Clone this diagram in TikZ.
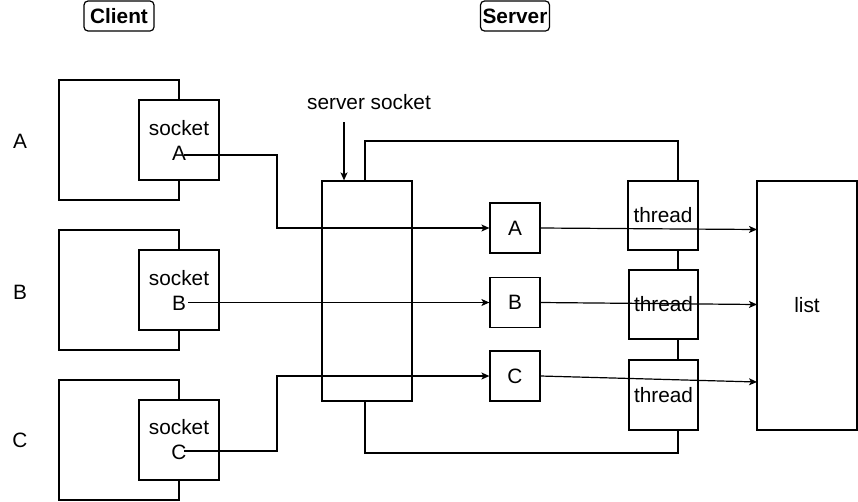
\documentclass[tikz,border=0pt]{standalone}
\usepackage{fontspec}
\setmainfont{Liberation Sans}
\usetikzlibrary{arrows.meta}
\newcommand\dfont{\fontsize{20.8}{25}\selectfont}
\begin{document}
\begin{tikzpicture}[x=1pt,y=-1pt,line width=1.2pt,font=\dfont,
  bx/.style={draw,fill=white,inner sep=0pt},
  lbl/.style={draw,rounded corners=4pt,minimum width=70pt,minimum height=30pt,inner sep=0pt,font=\dfont\bfseries},
  arr/.style={-{Stealth[length=8pt,width=7pt,inset=2pt]}}]
\useasboundingbox (0,0) rectangle (858,501);
% headers
\node[lbl] (client) at (119,16) {Client};
\node[lbl,minimum width=69pt] (server) at (515,16) {Server};
% left letters
\node (letA) at (20,141) {A};
\node (letB) at (20,292) {B};
\node (letC) at (20,440) {C};
% clients
\node[bx,minimum width=120pt,minimum height=120pt] (ca) at (119,140) {};
\node[bx,minimum width=80pt,minimum height=80pt,align=center] (sa) at (179,140) {socket\\A};
\node[bx,minimum width=120pt,minimum height=120pt] (cb) at (119,290) {};
\node[bx,minimum width=80pt,minimum height=80pt,align=center] (sb) at (179,290) {socket\\B};
\node[bx,minimum width=120pt,minimum height=120pt] (cc) at (119,440) {};
\node[bx,minimum width=80pt,minimum height=80pt,align=center] (sc) at (179,440) {socket\\C};
\coordinate (sae) at (184,155);
\coordinate (sbe) at (188,302.5);
\coordinate (sce) at (184,451);
% server socket
\node[bx,minimum width=90pt,minimum height=220pt] (ss) at (367,291) {};
\node (sslbl) at (369,102) {server socket};
\coordinate (ssa) at (344,122);
% per-client boxes
\node[bx,minimum width=50pt,minimum height=50pt] (ba) at (515,228) {A};
\node[bx,minimum width=50pt,minimum height=50pt] (bb) at (515,302.5) {B};
\node[bx,minimum width=50pt,minimum height=50pt] (bc) at (515,376) {C};
% threads
\node[bx,minimum width=70pt,minimum height=69pt] (t1) at (663,215.5) {thread};
\node[bx,minimum width=69pt,minimum height=69pt] (t2) at (663.5,304.5) {thread};
\node[bx,minimum width=69pt,minimum height=70pt] (t3) at (663.5,395) {thread};
% list
\node[bx,minimum width=100pt,minimum height=249pt] (list) at (807,305.5) {list};
\coordinate (lia) at (757,229.5);
\coordinate (lib) at (757,304.5);
\coordinate (lic) at (757,382);
% connectors
\draw[arr] (ssa) -- ([xshift=-23pt]ss.north);
\draw[arr] (sae) -- (277,155) -- (277,228) -- (ba.west);
\draw[arr] (sbe) -- (bb.west);
\draw[arr] (sce) -- (277,451) -- (277,376) -- (bc.west);
\draw[arr] (ba.east) -- (lia);
\draw[arr] (bb.east) -- (lib);
\draw[arr] (bc.east) -- (lic);
\draw ([xshift=-2pt]ss.north) -- (365,141) -- (678,141) -- ([xshift=15pt]t1.north);
\draw ([xshift=15pt]t1.south) -- ([xshift=14.5pt]t2.north);
\draw ([xshift=14.5pt]t2.south) -- ([xshift=14.5pt]t3.north);
\draw ([xshift=-2pt]ss.south) -- (365,453) -- (678,453) -- ([xshift=14.5pt]t3.south);
\end{tikzpicture}
\end{document}
